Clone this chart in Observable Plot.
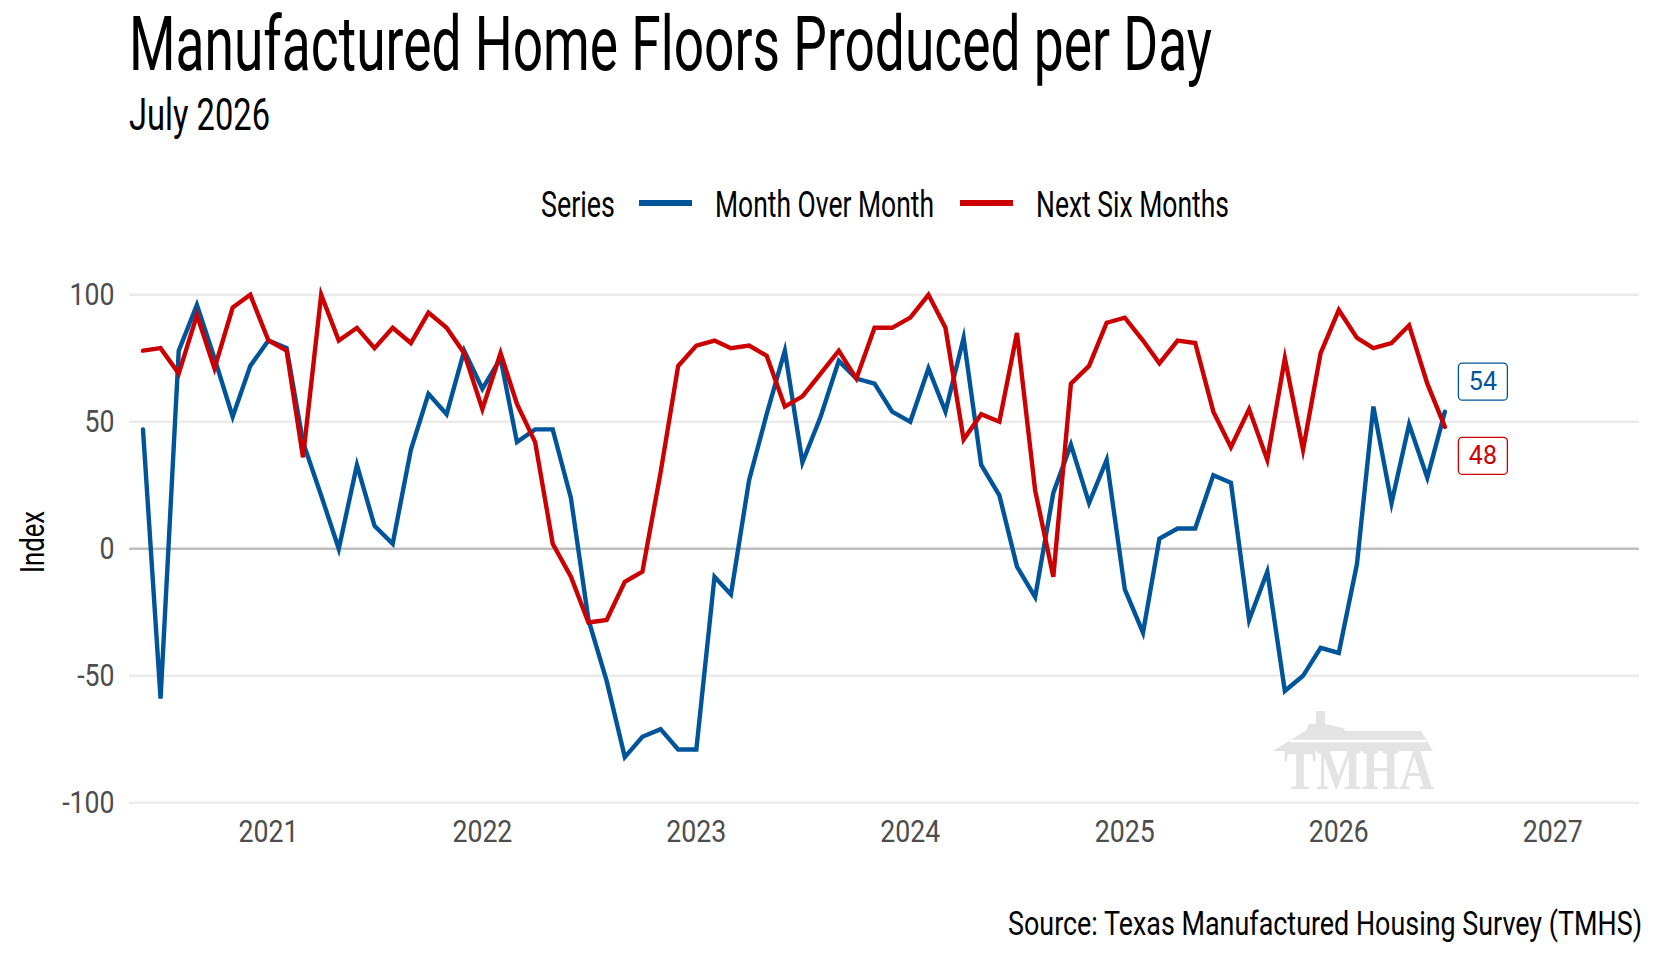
<!DOCTYPE html>
<html>
<head>
<meta charset="utf-8">
<script src="https://cdn.jsdelivr.net/npm/d3@7"></script>
<script src="https://cdn.jsdelivr.net/npm/@observablehq/plot@0.6"></script>
<style>
  body { margin: 0; background: #fff; width: 1660px; height: 960px; position: relative; overflow: hidden; font-family: Roboto, sans-serif; }
  .t { position: absolute; left: 0; top: 0; white-space: nowrap; line-height: 1; transform-origin: 0 0; color: #000; }
  .key { position: absolute; height: 6.5px; width: 53px; }
  #chart { position: absolute; left: 0; top: 260px; }
  #logo { position: absolute; left: 0; top: 0; }
</style>
</head>
<body>
<svg id="logo" width="1660" height="960">
  <g fill="#e3e3e3">
    <polygon points="1273,751 1305,731 1421,731 1433,751"/>
    <polygon points="1316,711 1325,711 1325,724 1343,728 1349,735 1341,745 1332,749 1327,758 1320,745 1311,738 1304,735 1309,724 1316,724"/>
  </g>
  <line x1="1290" y1="741" x2="1426" y2="741" stroke="#fff" stroke-width="2.5"/>
  <text id="logotext" x="1284" y="789" fill="#e3e3e3" font-family="Liberation Serif, DejaVu Serif, serif" font-weight="700" font-size="58">TMHA</text>
</svg>
<div id="title" class="t" style="font-size:76px">Manufactured Home Floors Produced per Day</div>
<div id="subtitle" class="t" style="font-size:45px">July 2026</div>
<div id="legend"></div>
<div id="ylabel" class="t" style="font-size:33px">Index</div>
<div id="chart"></div>
<div id="caption" class="t" style="font-size:33px">Source: Texas Manufactured Housing Survey (TMHS)</div>
<script>
// monthly survey readings, Jun 2020 – Jul 2026
const months = d3.utcMonth.range(new Date(Date.UTC(2020, 5, 1)), new Date(Date.UTC(2026, 7, 1)));

const monthOverMonth = [
  47, -59, 78, 96, 75, 52, 72,
  82, 79, 42, 21, 0, 33, 9, 2, 39, 61, 53, 78,
  63, 75, 42, 47, 47, 20, -28, -52, -82, -74, -71, -79,
  -79, -11, -18, 27, 53, 78, 34, 52, 74, 67, 65, 54,
  50, 71, 54, 83, 33, 21, -7, -19, 22, 41, 18, 35,
  -16, -33, 4, 8, 8, 29, 26, -28, -9, -56, -50, -39,
  -41, -6, 56, 18, 49, 28, 54
];
const nextSixMonths = [
  78, 79, 69, 92, 71, 95, 100,
  82, 78, 36, 100, 82, 87, 79, 87, 81, 93, 87, 77,
  55, 77, 57, 42, 2, -11, -29, -28, -13, -9, 30, 72,
  80, 82, 79, 80, 76, 56, 60, 69, 78, 67, 87, 87,
  91, 100, 87, 43, 53, 50, 85, 23, -11, 65, 72, 89,
  91, 82, 73, 82, 81, 54, 40, 55, 35, 75, 39, 77,
  94, 83, 79, 81, 88, 65, 48
];

const seriesNames = ["Month Over Month", "Next Six Months"];
const seriesColors = ["#00549a", "#cc0000"];
const seriesValues = [monthOverMonth, nextSixMonths];
const yTicks = [-100, -50, 0, 50, 100];
const xTickYears = [2021, 2022, 2023, 2024, 2025, 2026, 2027];

const rows = seriesNames.flatMap((name, k) =>
  months.map((date, i) => ({date, value: seriesValues[k][i], series: name})));
const last = seriesNames.map((name, k) =>
  ({date: months[months.length - 1], value: seriesValues[k][months.length - 1], series: name}));
const labelNudge = {"Month Over Month": -30, "Next Six Months": 29};

// rounded box drawn behind the end labels
const labelBox = {
  draw(ctx) {
    const w = 24.5, h = 18.5, r = 4;
    ctx.moveTo(-w + r, -h);
    ctx.lineTo(w - r, -h);
    ctx.arcTo(w, -h, w, -h + r, r);
    ctx.lineTo(w, h - r);
    ctx.arcTo(w, h, w - r, h, r);
    ctx.lineTo(-w + r, h);
    ctx.arcTo(-w, h, -w, h - r, r);
    ctx.lineTo(-w, -h + r);
    ctx.arcTo(-w, -h, -w + r, -h, r);
    ctx.closePath();
  }
};

const labelMarks = last.flatMap(d => [
  Plot.dot([d], {x: "date", y: "value", stroke: "series", fill: "white", strokeWidth: 1.3,
    symbol: labelBox, dx: 38, dy: labelNudge[d.series]}),
  Plot.text([d], {x: "date", y: "value", text: p => String(p.value), fill: "series",
    fontSize: 25, dx: 38, dy: labelNudge[d.series]})
]);

const chart = Plot.plot({
  width: 1660,
  height: 610,
  marginLeft: 129,
  marginRight: 21,
  marginTop: 21.6,
  marginBottom: 55,
  style: {fontFamily: "Roboto", fontSize: "32px", color: "#4d4d4d", background: "transparent"},
  x: {
    type: "utc",
    domain: [new Date(Date.UTC(2020, 4, 9)), new Date(Date.UTC(2027, 4, 29))],
    ticks: xTickYears.map(y => new Date(Date.UTC(y, 0, 1))),
    tickFormat: d3.utcFormat("%Y"),
    tickSize: 0,
    tickPadding: 3.5,
    label: null
  },
  y: {
    domain: [-105, 105],
    ticks: yTicks,
    tickFormat: d => String(d),
    tickSize: 0,
    tickPadding: 15,
    label: null
  },
  color: {domain: seriesNames, range: seriesColors},
  marks: [
    Plot.ruleY(yTicks.filter(d => d !== 0), {stroke: "#ebebeb", strokeWidth: 2.5}),
    Plot.ruleY([0], {stroke: "#bebebe", strokeWidth: 2.5}),
    Plot.line(rows, {x: "date", y: "value", z: "series", stroke: "series", strokeWidth: 4.4,
      strokeLinejoin: "miter", strokeMiterlimit: 6}),
    ...labelMarks
  ]
});
document.getElementById("chart").append(chart);

// legend
const legend = document.getElementById("legend");
const legendTitle = document.createElement("div");
legendTitle.className = "t";
legendTitle.style.fontSize = "36.5px";
legendTitle.textContent = "Series";
legend.append(legendTitle);
const keyX = [639, 960], nameX = [715, 1036], nameW = [219, 193];
const legendNames = seriesNames.map((name, k) => {
  const key = document.createElement("div");
  key.className = "key";
  key.style.background = seriesColors[k];
  key.style.left = keyX[k] + "px";
  key.style.top = (203 - 3.25) + "px";
  const lab = document.createElement("div");
  lab.className = "t";
  lab.style.fontSize = "36.5px";
  lab.textContent = name;
  legend.append(key, lab);
  return lab;
});

// squeeze text horizontally to the condensed face of the original
function place(el, x, baseline, width, anchor) {
  el.style.transform = "none";
  const mark = document.createElement("i");
  mark.style.cssText = "display:inline-block;width:0;height:0;";
  el.appendChild(mark);
  const r = el.getBoundingClientRect();
  const b = mark.getBoundingClientRect().top - r.top;
  el.removeChild(mark);
  const s = width / r.width;
  const left = anchor === "end" ? x - width : x;
  el.style.transform = `translate(${left}px, ${baseline - b}px) scaleX(${s})`;
}

function squeeze(t, s) {
  const tr = t.getAttribute("transform");
  if (tr) t.setAttribute("transform", tr + ` scale(${s},1)`);
  else {
    const x = +t.getAttribute("x") || 0, y = +t.getAttribute("y") || 0;
    t.removeAttribute("x"); t.removeAttribute("y");
    t.setAttribute("transform", `translate(${x},${y}) scale(${s},1)`);
  }
}

document.fonts.ready.then(() => {
  place(document.getElementById("title"), 129, 70, 1083);
  place(document.getElementById("subtitle"), 129, 130, 141);
  place(legendTitle, 541, 217, 74);
  legendNames.forEach((el, k) => place(el, nameX[k], 217, nameW[k]));
  place(document.getElementById("caption"), 1642, 935, 634, "end");

  const yl = document.getElementById("ylabel");
  yl.style.transform = "none";
  const w = yl.getBoundingClientRect().width;
  yl.style.transformOrigin = "0 0";
  yl.style.transform = `translate(32px, 542px) rotate(-90deg) scaleX(${62 / w}) translate(-50%, -50%)`;

  const xt = chart.querySelectorAll('g[aria-label="x-axis tick label"] text');
  const yt = chart.querySelectorAll('g[aria-label="y-axis tick label"] text');
  if (xt.length) {
    const s = 60 / xt[0].getBBox().width;
    xt.forEach(t => squeeze(t, s));
    yt.forEach(t => squeeze(t, s));
  }

  const lt = document.getElementById("logotext");
  lt.setAttribute("textLength", 150);
  lt.setAttribute("lengthAdjust", "spacingAndGlyphs");
});
</script>
</body>
</html>
